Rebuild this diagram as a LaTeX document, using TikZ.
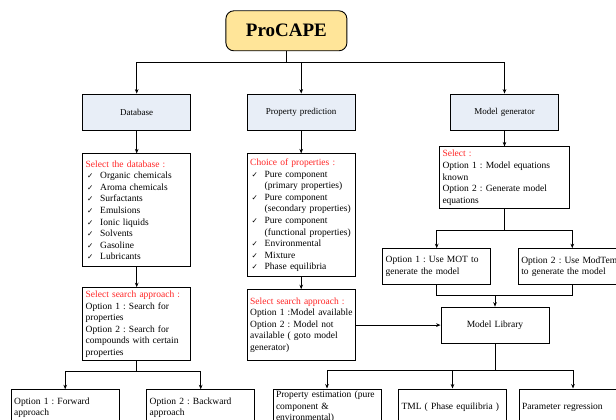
\documentclass[tikz,border=0pt]{standalone}
\usepackage{fontspec}
\setmainfont{Liberation Serif}
\newfontfamily\tickfont{DejaVu Sans}
\usetikzlibrary{positioning, arrows.meta}

\definecolor{capeyellow}{RGB}{255,229,153}
\definecolor{toolblue}{RGB}{232,238,247}
\definecolor{headred}{RGB}{255,38,38}

% red heading line and ticked list entries inside the boxes
\newcommand{\head}[1]{\textcolor{headred}{#1}\par}
\newcommand{\tick}[1]{\par\hangindent=14.5pt\hangafter=1\noindent\makebox[14.5pt][l]{\hspace{1.5pt}{\tickfont\fontsize{7.5}{7.5}\selectfont ✓}}#1}

\begin{document}
\begin{tikzpicture}[
		x=1pt, y=-1pt,
		font=\fontsize{9.5}{11.6}\selectfont\frenchspacing,
		node distance=23pt,
		cape/.style={draw, line width=0.9pt, rounded corners=8pt, fill=capeyellow, minimum width=121pt, minimum height=40pt, font=\fontsize{19}{22}\selectfont\bfseries},
		tool/.style={draw, line width=0.8pt, fill=toolblue, text width=102pt, inner xsep=3pt, align=center, minimum height=36pt, font=\fontsize{9}{11}\selectfont},
		card/.style={draw, line width=0.8pt, fill=white, text width=102pt, inner xsep=3pt, align=left, minimum height=36pt},
		arrow/.style={line width=0.7pt,-{Stealth[length=4.5pt,width=3.6pt]}},
		link/.style={line width=0.7pt}
		]
		\useasboundingbox (0,0) rectangle (616,420);
		\clip (0,0) rectangle (616,420);
		
		% Top level
		\node[cape] (procape) at (286.4,30.8) {ProCAPE};
		\node[tool] (db) at (136.7,112) {Database};
		\node[tool] (prop) at (301.2,112) {Property prediction};
		\node[tool] (mgen) at (504.5,112) {Model generator};
		
		% Database branch
		\node[card, below=of db, minimum height=113pt] (dblist) {\head{Select the database :}%
			\tick{Organic chemicals}\tick{Aroma chemicals}\tick{Surfactants}\tick{Emulsions}%
			\tick{Ionic liquids}\tick{Solvents}\tick{Gasoline}\tick{Lubricants}};
		\node[card, below=20pt of dblist, minimum height=72pt] (dbsearch) {\head{Select search approach :}Option 1 : Search for\\properties\\Option 2 : Search for\\compounds with certain\\properties};
		\node[card, below=28pt of dbsearch, xshift=-71.5pt] (fwd) {Option 1 : Forward\\approach};
		\node[card, below=28pt of dbsearch, xshift=64pt] (bwd) {Option 2 : Backward\\approach};
		
		% Property prediction branch
		\node[card, below=of prop, minimum height=123pt] (proplist) {\head{Choice of properties :}%
			\tick{Pure component\newline(primary properties)}\tick{Pure component\newline(secondary properties)}%
			\tick{Pure component\newline(functional properties)}\tick{Environmental}\tick{Mixture}\tick{Phase equilibria}};
		\node[card, below=12pt of proplist, minimum height=71pt] (propsearch) {\head{Select search approach :}\mbox{Option 1 :Model available}\\Option 2 : Model not\\available ( goto model\\generator)};
		
		% Model generator branch
		\node[card, below=16pt of mgen, text width=124pt, minimum height=62pt] (mgsel) {\head{Select :}Option 1 : Model equations\\known\\Option 2 : Generate model\\equations};
		\node[card, below=39pt of mgsel, xshift=-67.8pt] (mot) {Option 1 : Use MOT to\\generate the model};
		\node[card, below=39pt of mgsel, xshift=67.8pt] (modtem) {Option 2 : Use ModTem\\to generate the model};
		\node[card, right=85pt of propsearch, align=center] (lib) {Model Library};
		\node[card, below=45pt of lib, xshift=-168pt, inner ysep=1.2pt] (estim) {Property estimation (pure\\component \&\\environmental)};
		\node[card, below=45pt of lib, xshift=-42.5pt] (tml) {TML ( Phase equilibria )};
		\node[card, below=45pt of lib, xshift=78pt] (regress) {Parameter regression};
		
		% Edges
		\draw[link] (procape.south) -- ++(0,11) coordinate (top);
		\draw[arrow] (top) -| (db.north);
		\draw[arrow] (top) -| (prop.north);
		\draw[arrow] (top) -| (mgen.north);
		
		\draw[arrow] (db) -- (dblist);
		\draw[arrow] (dblist) -- (dbsearch);
		\draw[link] (dbsearch.south) -- ++(0,10) coordinate (dbsplit);
		\draw[arrow] (dbsplit) -| (fwd.north);
		\draw[arrow] (dbsplit) -| (bwd.north);
		
		\draw[arrow] (prop) -- (proplist);
		\draw[arrow] (proplist) -- (propsearch);
		\draw[arrow] (propsearch) -- (lib);
		
		\draw[arrow] (mgen) -- (mgsel);
		\draw[link] (mgsel.south) -- ++(0,21) coordinate (mgsplit);
		\draw[arrow] (mgsplit) -| (mot.north);
		\draw[arrow] (mgsplit) -| (modtem.north);
		\path (lib.north) ++(0,-11) coordinate (mgjoin);
		\draw[link] (mot.south) |- (mgjoin) -| (modtem.south);
		\draw[arrow] (mgjoin) -- (lib.north);
		
		\draw[link] (lib.south) -- ++(0,27) coordinate (libsplit);
		\draw[arrow] (libsplit) -| (estim.north);
		\draw[arrow] (libsplit) -| (tml.north);
		\draw[arrow] (libsplit) -| (regress.north);
		
	\end{tikzpicture}
\end{document}
